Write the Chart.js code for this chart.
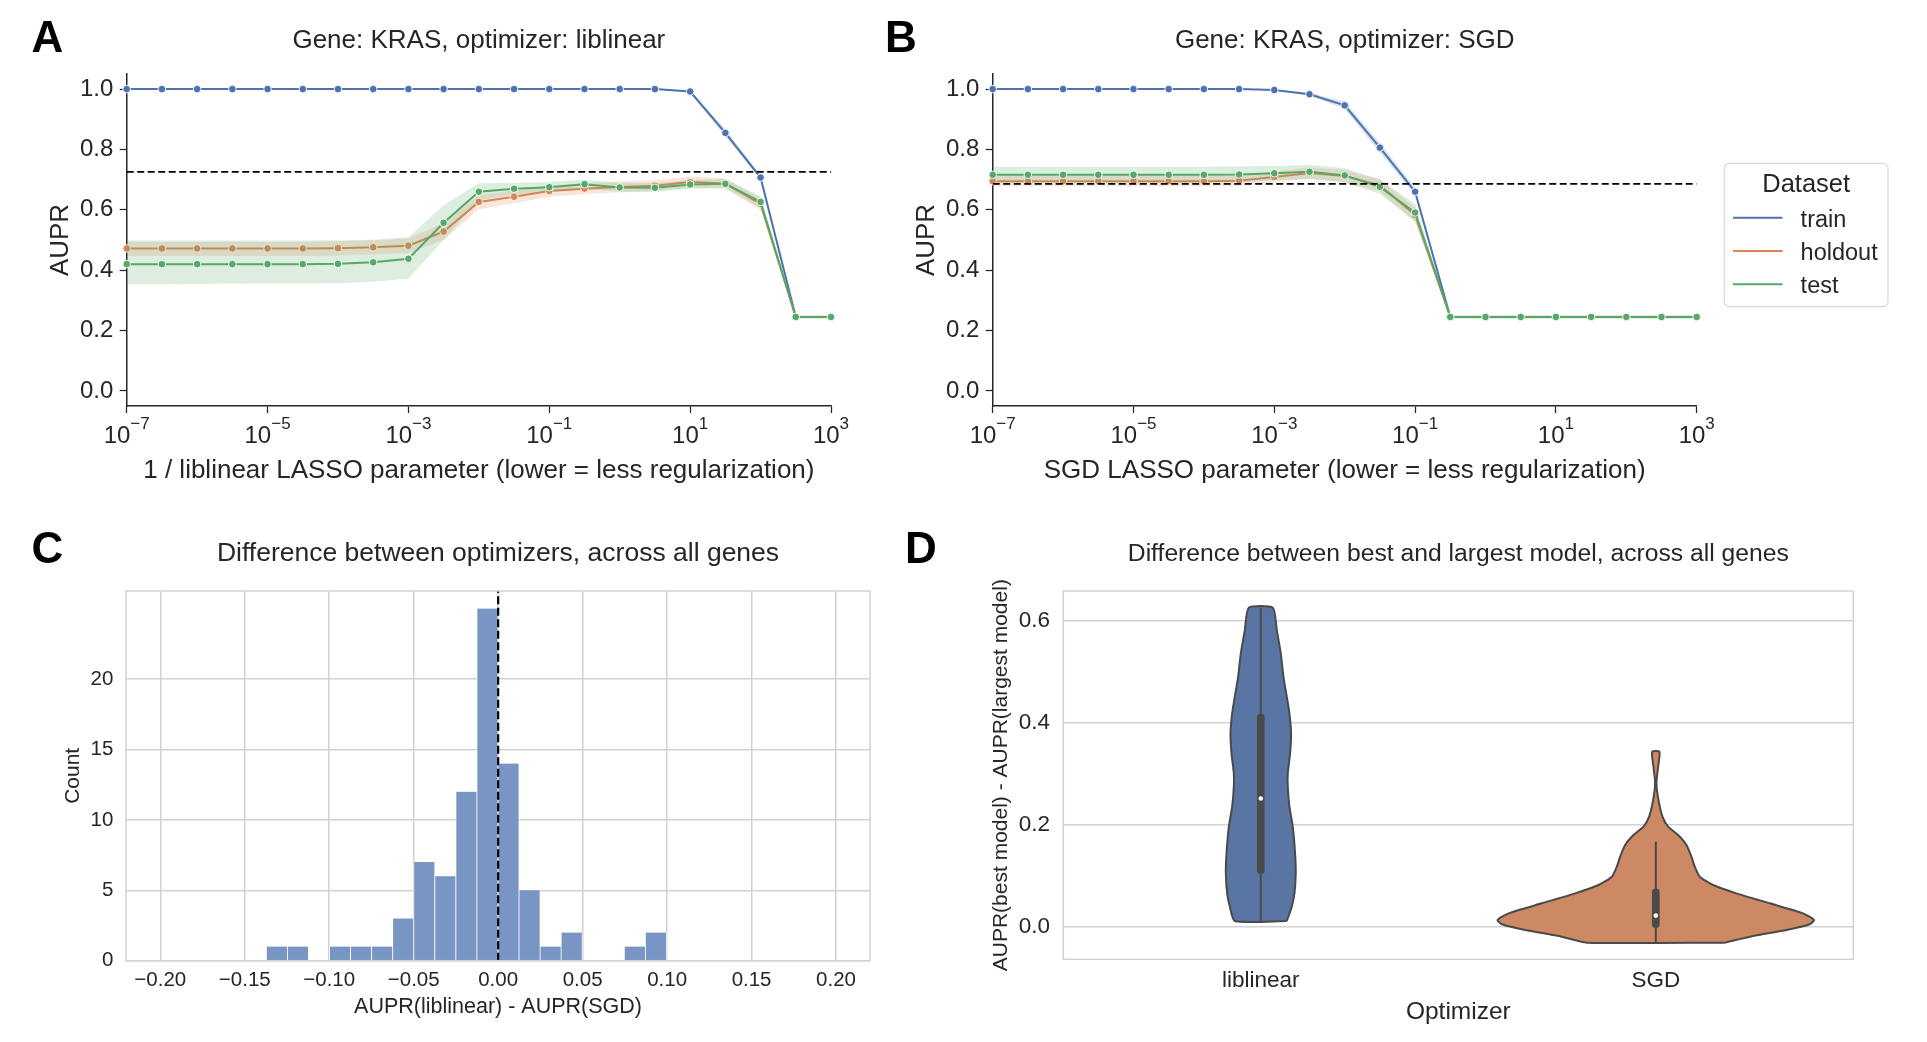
<!DOCTYPE html>
<html><head><meta charset="utf-8">
<script src="https://cdn.jsdelivr.net/npm/chart.js@4.4.1/dist/chart.umd.min.js"></script>
<style>
html,body{margin:0;padding:0;background:#fff;width:1927px;height:1042px;overflow:hidden;}
canvas{position:absolute;}
</style></head><body>
<canvas id="cA" width="860" height="500" style="left:0;top:0"></canvas>
<canvas id="cB" width="1067" height="500" style="left:860px;top:0"></canvas>
<canvas id="cC" width="900" height="542" style="left:0;top:500px"></canvas>
<canvas id="cD" width="1027" height="542" style="left:900px;top:500px"></canvas>
<script>
// ---------------- data ----------------
const lassoParams = [1e-7, 3.162e-7, 1e-6, 3.162e-6, 1e-5, 3.162e-5, 1e-4, 3.162e-4, 1e-3, 3.162e-3,
  1e-2, 3.162e-2, 1e-1, 3.162e-1, 1, 3.162, 10, 31.62, 100, 316.2, 1000];
const seriesNames = ['train', 'holdout', 'test'];
const seriesColors = ['#4c72b0', '#dd8452', '#55a868'];
const bandColors = ['rgba(76,114,176,0.2)', 'rgba(221,132,82,0.2)', 'rgba(85,168,104,0.2)'];
const xTickExponents = [-7, -5, -3, -1, 1, 3];
const aucTicks = [0, 0.2, 0.4, 0.6, 0.8, 1.0];

// Panel A: liblinear
const trainA    = [1,1,1,1,1,1,1,1,1,1,1,1,1,1,1,1,0.992,0.855,0.707,0.245,0.245];
const trainA_lo = [1,1,1,1,1,1,1,1,1,1,1,1,1,1,1,1,0.988,0.843,0.700,0.243,0.243];
const trainA_hi = [1,1,1,1,1,1,1,1,1,1,1,1,1,1,1,1,0.996,0.867,0.714,0.247,0.247];
const holdoutA    = [0.472,0.472,0.472,0.472,0.472,0.472,0.473,0.476,0.481,0.528,0.626,0.643,0.662,0.670,0.676,0.680,0.692,0.687,0.620,0.245,0.245];
const holdoutA_lo = [0.447,0.447,0.447,0.447,0.447,0.447,0.449,0.452,0.457,0.500,0.602,0.622,0.643,0.652,0.658,0.662,0.674,0.670,0.600,0.240,0.240];
const holdoutA_hi = [0.494,0.494,0.494,0.494,0.494,0.494,0.496,0.499,0.505,0.556,0.648,0.664,0.681,0.688,0.694,0.698,0.710,0.705,0.638,0.250,0.250];
const testA    = [0.420,0.420,0.420,0.420,0.420,0.420,0.421,0.426,0.438,0.557,0.660,0.670,0.675,0.685,0.674,0.673,0.684,0.686,0.626,0.245,0.245];
const testA_lo = [0.353,0.353,0.354,0.355,0.356,0.356,0.357,0.362,0.372,0.500,0.632,0.650,0.660,0.670,0.660,0.660,0.670,0.672,0.605,0.240,0.240];
const testA_hi = [0.498,0.498,0.498,0.498,0.498,0.498,0.499,0.501,0.509,0.615,0.688,0.690,0.692,0.700,0.690,0.688,0.700,0.702,0.645,0.250,0.250];
const refLineA = 0.726;

// Panel B: SGD
const trainB    = [1,1,1,1,1,1,1,1,0.997,0.983,0.946,0.806,0.660,0.245,0.245,0.245,0.245,0.245,0.245,0.245,0.245];
const trainB_lo = [1,1,1,1,1,1,1,1,0.995,0.978,0.934,0.790,0.648,0.243,0.243,0.243,0.243,0.243,0.243,0.243,0.243];
const trainB_hi = [1,1,1,1,1,1,1,1,0.999,0.988,0.958,0.822,0.672,0.247,0.247,0.247,0.247,0.247,0.247,0.247,0.247];
const holdoutB    = [0.695,0.695,0.695,0.695,0.695,0.695,0.695,0.696,0.709,0.722,0.712,0.681,0.583,0.245,0.245,0.245,0.245,0.245,0.245,0.245,0.245];
const holdoutB_lo = [0.678,0.678,0.678,0.678,0.678,0.678,0.678,0.679,0.692,0.703,0.692,0.660,0.560,0.240,0.240,0.240,0.240,0.240,0.240,0.240,0.240];
const holdoutB_hi = [0.712,0.712,0.712,0.712,0.712,0.712,0.712,0.713,0.726,0.741,0.732,0.702,0.606,0.250,0.250,0.250,0.250,0.250,0.250,0.250,0.250];
const testB    = [0.716,0.716,0.716,0.716,0.716,0.716,0.716,0.717,0.721,0.726,0.714,0.676,0.591,0.245,0.245,0.245,0.245,0.245,0.245,0.245,0.245];
const testB_lo = [0.690,0.690,0.690,0.690,0.690,0.690,0.690,0.691,0.697,0.703,0.690,0.652,0.562,0.240,0.240,0.240,0.240,0.240,0.240,0.240,0.240];
const testB_hi = [0.743,0.743,0.743,0.743,0.743,0.743,0.743,0.744,0.745,0.749,0.738,0.700,0.620,0.250,0.250,0.250,0.250,0.250,0.250,0.250,0.250];
const refLineB = 0.686;

// Panel C: histogram of AUPR(liblinear) - AUPR(SGD)
const binCenters = [-0.13097,-0.11851,-0.10604,-0.09358,-0.08112,-0.06865,-0.05619,-0.04373,-0.03126,-0.01880,
  -0.00634,0.00613,0.01859,0.03105,0.04352,0.05598,0.06844,0.08091,0.09337];
const binCounts = [1,1,0,1,1,1,3,7,6,12,25,14,5,1,2,0,0,1,2];
const diffTicks = [-0.20,-0.15,-0.10,-0.05,0.00,0.05,0.10,0.15,0.20];
const countTicks = [0,5,10,15,20];

// Panel D: violins (outline: y levels and half-widths)
const optimizerNames = ['liblinear', 'SGD'];
const liblinearY  = [0.0104,0.0385,0.0648,0.1040,0.1432,0.1955,0.2348,0.2740,0.3003,0.3395,0.3788,0.4180,0.4507,0.4899,0.5358,0.5815,0.6254];
const liblinearHW = [0.0658,0.0784,0.0852,0.0885,0.0868,0.0809,0.0725,0.0683,0.0683,0.0742,0.0767,0.0725,0.0658,0.0574,0.0506,0.0405,0.0304];
const sgdY  = [-0.0321,-0.0190,-0.0073,0.0039,0.0124,0.0255,0.0451,0.0647,0.0811,0.0974,0.1170,0.1367,0.1596,0.1792,0.1956,0.2152,0.2479,0.2807,0.3133,0.3427];
const sgdHW = [0.1746,0.2462,0.3306,0.3896,0.4005,0.3727,0.2884,0.2041,0.1450,0.1113,0.0987,0.0902,0.0776,0.0565,0.0312,0.0169,0.0067,0.0017,0.0059,0.0093];
// [min, q1, median, q3, max]
const liblinearBox = [0.0104, 0.110, 0.251, 0.410, 0.6254];
const sgdBox = [-0.0321, 0.004, 0.021, 0.0667, 0.166];
const deltaTicks = [0, 0.2, 0.4, 0.6];
const violinColors = ['#5875a4', '#cc8963'];

// ---------------- helpers ----------------
const FONT = "'Liberation Sans', Arial, Helvetica, sans-serif";
const INK = '#262626';
const GRID = '#d2d2d2';
Chart.defaults.font.family = FONT;
Chart.defaults.color = INK;
Chart.defaults.animation = false;

const pts = (xs, ys) => xs.map((x, i) => ({x, y: ys[i]}));

function letterPlugin(letter, x, y) {
  return {id: 'letter' + letter, afterDraw(chart) {
    const ctx = chart.ctx; ctx.save();
    ctx.font = `bold 44px ${FONT}`; ctx.fillStyle = '#000'; ctx.textBaseline = 'alphabetic'; ctx.textAlign = 'left';
    ctx.fillText(letter, x, y); ctx.restore();
  }};
}

const logTickPlugin = {
  id: 'logTicks',
  afterDraw(chart) {
    const sc = chart.scales.x, ctx = chart.ctx;
    const base = chart.chartArea.bottom + 36.8;
    ctx.save(); ctx.fillStyle = INK; ctx.textBaseline = 'alphabetic'; ctx.textAlign = 'left';
    sc.ticks.forEach(t => {
      const px = sc.getPixelForValue(t.value);
      const e = Math.round(Math.log10(t.value));
      const expStr = (e < 0 ? '\u2212' : '') + Math.abs(e);
      ctx.font = `24px ${FONT}`; const w1 = ctx.measureText('10').width;
      ctx.font = `17px ${FONT}`; const w2 = ctx.measureText(expStr).width;
      const x0 = px - (w1 + w2) / 2;
      ctx.font = `24px ${FONT}`; ctx.fillText('10', x0, base);
      ctx.font = `17px ${FONT}`; ctx.fillText(expStr, x0 + w1, base - 14);
    });
    ctx.restore();
  }
};

const framePlugin = {
  id: 'frame',
  afterDatasetsDraw(chart) {
    const a = chart.chartArea, ctx = chart.ctx; ctx.save();
    ctx.strokeStyle = GRID; ctx.lineWidth = 1.5;
    ctx.strokeRect(a.left, a.top, a.right - a.left, a.bottom - a.top); ctx.restore();
  }
};

const legendPlugin = {
  id: 'datasetLegend',
  afterDraw(chart) {
    const ctx = chart.ctx, a = chart.chartArea;
    const bx = a.right + 27.6, by = 163.3, bw = 163.7, bh = 143.4;
    ctx.save();
    ctx.beginPath(); ctx.roundRect(bx, by, bw, bh, 5);
    ctx.fillStyle = 'rgba(255,255,255,0.8)'; ctx.fill();
    ctx.strokeStyle = '#d9d9d9'; ctx.lineWidth = 1.2; ctx.stroke();
    ctx.fillStyle = INK; ctx.textBaseline = 'alphabetic';
    ctx.font = `25.5px ${FONT}`; ctx.textAlign = 'center';
    ctx.fillText('Dataset', bx + bw / 2, 191.7);
    ctx.font = `23.5px ${FONT}`; ctx.textAlign = 'left';
    seriesNames.forEach((n, i) => {
      const y = 217.7 + i * 33.3;
      ctx.strokeStyle = seriesColors[i]; ctx.lineWidth = 2;
      ctx.beginPath(); ctx.moveTo(bx + 8.7, y); ctx.lineTo(bx + 58.2, y); ctx.stroke();
      ctx.fillStyle = INK; ctx.fillText(n, bx + 76.3, y + 8.8);
    });
    ctx.restore();
  }
};

function aucDatasets(series, refY) {
  const ds = []; let order = 100;
  series.forEach(s => {
    ds.push({label: s.name + ' upper', data: pts(lassoParams, s.hi), borderColor: 'transparent', borderWidth: 0,
      pointRadius: 0, pointHoverRadius: 0, fill: false, order: order--});
    ds.push({label: s.name + ' lower', data: pts(lassoParams, s.lo), borderColor: 'transparent', borderWidth: 0,
      pointRadius: 0, pointHoverRadius: 0, fill: '-1', backgroundColor: s.band, order: order--});
    ds.push({label: s.name, data: pts(lassoParams, s.mean), borderColor: s.color, borderWidth: 2, fill: false,
      pointRadius: 3.8, pointBackgroundColor: s.color, pointBorderColor: '#ffffff', pointBorderWidth: 0.9,
      tension: 0, clip: false, order: order--});
  });
  ds.push({label: 'reference', data: [{x: lassoParams[0], y: refY}, {x: lassoParams[lassoParams.length - 1], y: refY}],
    borderColor: '#000', borderWidth: 1.8, borderDash: [7, 3.5], pointRadius: 0, fill: false, order: 0});
  return ds;
}

function aucOptions(title, xLabel, yW, padRight, yTitlePad) {
  return {
    responsive: false, devicePixelRatio: 1, animation: false, events: [],
    layout: {padding: {left: 0, top: 0, right: padRight, bottom: 0}},
    plugins: {
      legend: {display: false}, tooltip: {enabled: false},
      title: {display: true, text: title, fullSize: false, color: INK,
        font: {size: 26, weight: 'normal', family: FONT}, padding: {top: 25.4, bottom: 17.4}}
    },
    scales: {
      x: {type: 'logarithmic', min: 1e-7, max: 1e3,
        afterBuildTicks: s => { s.ticks = xTickExponents.map(e => ({value: Math.pow(10, e)})); },
        afterFit: s => { s.height = 94; },
        ticks: {display: false},
        grid: {display: true, drawOnChartArea: false, drawTicks: true, tickLength: 7, tickColor: INK, tickWidth: 1.25, color: INK},
        border: {display: true, color: INK, width: 1.5},
        title: {display: true, text: xLabel, color: INK, font: {size: 26, family: FONT}, padding: {top: 0, bottom: 13.4}}
      },
      y: {type: 'linear', min: -0.05, max: 1.05,
        afterBuildTicks: s => { s.ticks = aucTicks.map(v => ({value: v})); },
        afterFit: s => { s.width = yW; },
        ticks: {font: {size: 24, family: FONT}, color: INK, padding: 6.4, callback: v => Number(v).toFixed(1)},
        grid: {display: true, drawOnChartArea: false, drawTicks: true, tickLength: 7, tickColor: INK, tickWidth: 1.25, color: INK},
        border: {display: true, color: INK, width: 1.5},
        title: {display: true, text: 'AUPR', color: INK, font: {size: 26, family: FONT}, padding: {top: yTitlePad, bottom: 0}}
      }
    }
  };
}

// ---------------- Panel A ----------------
new Chart(document.getElementById('cA'), {
  type: 'line',
  data: {datasets: aucDatasets([
    {name: seriesNames[0], color: seriesColors[0], band: bandColors[0], mean: trainA, lo: trainA_lo, hi: trainA_hi},
    {name: seriesNames[1], color: seriesColors[1], band: bandColors[1], mean: holdoutA, lo: holdoutA_lo, hi: holdoutA_hi},
    {name: seriesNames[2], color: seriesColors[2], band: bandColors[2], mean: testA, lo: testA_lo, hi: testA_hi}
  ], refLineA)},
  options: aucOptions('Gene: KRAS, optimizer: liblinear', '1 / liblinear LASSO parameter (lower = less regularization)', 126.7, 29, 45.4),
  plugins: [logTickPlugin, letterPlugin('A', 31.5, 51.7)]
});

// ---------------- Panel B ----------------
new Chart(document.getElementById('cB'), {
  type: 'line',
  data: {datasets: aucDatasets([
    {name: seriesNames[0], color: seriesColors[0], band: bandColors[0], mean: trainB, lo: trainB_lo, hi: trainB_hi},
    {name: seriesNames[1], color: seriesColors[1], band: bandColors[1], mean: holdoutB, lo: holdoutB_lo, hi: holdoutB_hi},
    {name: seriesNames[2], color: seriesColors[2], band: bandColors[2], mean: testB, lo: testB_lo, hi: testB_hi}
  ], refLineB)},
  options: aucOptions('Gene: KRAS, optimizer: SGD', 'SGD LASSO parameter (lower = less regularization)', 132.7, 230.3, 51.4),
  plugins: [logTickPlugin, legendPlugin, letterPlugin('B', 25, 51.7)]
});

// ---------------- Panel C ----------------
const fmtDiff = v => { const s = Math.abs(v) < 1e-9 ? '0.00' : Math.abs(v).toFixed(2); return (v < -1e-9 ? '\u2212' : '') + s; };
new Chart(document.getElementById('cC'), {
  type: 'bar',
  data: {datasets: [
    {type: 'line', label: 'zero', data: [{x: 0, y: 0}, {x: 0, y: 26.25}], borderColor: '#000', borderWidth: 2.2,
      borderDash: [8, 3.5], pointRadius: 0, fill: false, order: 0},
    {type: 'bar', label: 'Count', data: pts(binCenters, binCounts), backgroundColor: 'rgb(121,149,196)',
      borderColor: '#ffffff', borderWidth: {left: 0.75, right: 0.75, top: 0, bottom: 0}, borderSkipped: false,
      barPercentage: 1, categoryPercentage: 1, order: 1}
  ]},
  options: {
    responsive: false, devicePixelRatio: 1, animation: false, events: [],
    layout: {padding: {left: 0, top: 0, right: 30, bottom: 0}},
    plugins: {
      legend: {display: false}, tooltip: {enabled: false},
      title: {display: true, text: 'Difference between optimizers, across all genes', fullSize: false, color: INK,
        font: {size: 26.5, weight: 'normal', family: FONT}, padding: {top: 37.6, bottom: 21.6}}
    },
    scales: {
      x: {type: 'linear', min: -0.2203, max: 0.2201, offset: false,
        afterBuildTicks: s => { s.ticks = diffTicks.map(v => ({value: v})); },
        afterFit: s => { s.height = 81.3; },
        ticks: {font: {size: 20.5, family: FONT}, color: INK, padding: 7.2, callback: v => fmtDiff(v), maxRotation: 0},
        grid: {display: true, drawOnChartArea: true, drawTicks: false, color: GRID, lineWidth: 1.5, offset: false},
        border: {display: false},
        title: {display: true, text: 'AUPR(liblinear) - AUPR(SGD)', color: INK, font: {size: 21.5, family: FONT}, padding: {top: 0, bottom: 21.6}}
      },
      y: {type: 'linear', min: 0, max: 26.25,
        afterBuildTicks: s => { s.ticks = countTicks.map(v => ({value: v})); },
        afterFit: s => { s.width = 126; },
        ticks: {font: {size: 20.5, family: FONT}, color: INK, padding: 12.7},
        grid: {display: true, drawOnChartArea: true, drawTicks: false, color: GRID, lineWidth: 1.5},
        border: {display: false},
        title: {display: true, text: 'Count', color: INK, font: {size: 21, family: FONT}, padding: {top: 60.8, bottom: 0}}
      }
    }
  },
  plugins: [framePlugin, letterPlugin('C', 31.5, 63.3)]
});

// ---------------- Panel D ----------------
function violinPolygon(center, ys, hws) {
  const right = ys.map((y, i) => ({x: center + hws[i], y}));
  const left = ys.map((y, i) => ({x: center - hws[i], y})).reverse();
  return right.concat(left, [right[0]]);
}
const EDGE = '#4a4a4a';
const violinDs = (c, ys, hws, col) => ({label: optimizerNames[c], data: violinPolygon(c, ys, hws), showLine: true, fill: 'shape',
  backgroundColor: col, borderColor: EDGE, borderWidth: 2, pointRadius: 0, tension: 0.2, order: 10});
const segDs = (c, y0, y1, w, order) => ({label: 'box', data: [{x: c, y: y0}, {x: c, y: y1}], showLine: true, fill: false,
  borderColor: EDGE, borderWidth: w, borderCapStyle: w > 3 ? 'round' : 'butt', pointRadius: 0, order});
new Chart(document.getElementById('cD'), {
  type: 'scatter',
  data: {datasets: [
    violinDs(0, liblinearY, liblinearHW, violinColors[0]),
    violinDs(1, sgdY, sgdHW, violinColors[1]),
    segDs(0, liblinearBox[0], liblinearBox[4], 2, 5),
    segDs(1, sgdBox[0], sgdBox[4], 2, 5),
    segDs(0, liblinearBox[1], liblinearBox[3], 7.7, 4),
    segDs(1, sgdBox[1], sgdBox[3], 7.7, 4),
    {label: 'median', data: [{x: 0, y: liblinearBox[2]}, {x: 1, y: sgdBox[2]}], showLine: false, pointRadius: 2.3,
      pointBackgroundColor: '#ffffff', pointBorderWidth: 0, order: 0}
  ]},
  options: {
    responsive: false, devicePixelRatio: 1, animation: false, events: [],
    layout: {padding: {left: 0, top: 0, right: 73.7, bottom: 0}},
    plugins: {
      legend: {display: false}, tooltip: {enabled: false},
      title: {display: true, text: 'Difference between best and largest model, across all genes', fullSize: false, color: INK,
        font: {size: 24.7, weight: 'normal', family: FONT}, padding: {top: 39.3, bottom: 22.1}}
    },
    scales: {
      x: {type: 'linear', min: -0.5, max: 1.5,
        afterBuildTicks: s => { s.ticks = optimizerNames.map((n, i) => ({value: i})); },
        afterFit: s => { s.height = 82.7; },
        ticks: {font: {size: 22.5, family: FONT}, color: INK, padding: 7.7, callback: (v, i) => optimizerNames[i], maxRotation: 0},
        grid: {display: false, drawTicks: false},
        border: {display: false},
        title: {display: true, text: 'Optimizer', color: INK, font: {size: 24.5, family: FONT}, padding: {top: 0, bottom: 15}}
      },
      y: {type: 'linear', min: -0.0648, max: 0.6583,
        afterBuildTicks: s => { s.ticks = deltaTicks.map(v => ({value: v})); },
        afterFit: s => { s.width = 163.3; },
        ticks: {font: {size: 22.5, family: FONT}, color: INK, padding: 13.3, callback: v => Number(v).toFixed(1)},
        grid: {display: true, drawOnChartArea: true, drawTicks: false, color: GRID, lineWidth: 1.5},
        border: {display: false},
        title: {display: true, text: 'AUPR(best model) - AUPR(largest model)', color: INK, font: {size: 21, family: FONT}, padding: {top: 88.4, bottom: 0}}
      }
    }
  },
  plugins: [framePlugin, letterPlugin('D', 5, 62.7)]
});
</script>
</body></html>
